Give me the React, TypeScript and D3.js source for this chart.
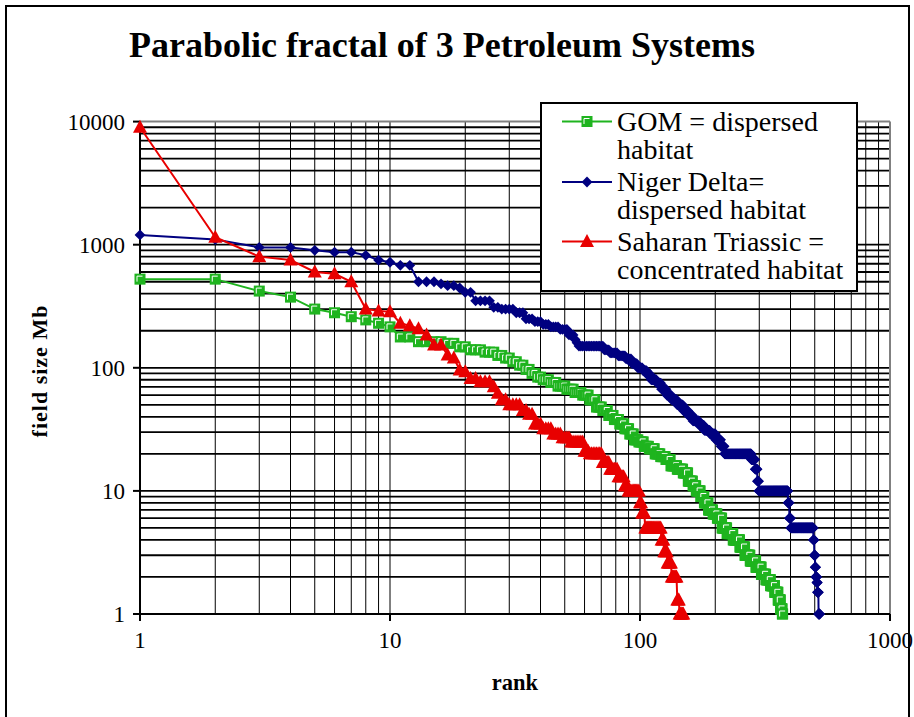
import React from 'react';
import * as d3 from 'd3';

const W = 914;
const H = 717;
const FONT = '"Liberation Serif", serif';

const titleText = 'Parabolic fractal of 3 Petroleum Systems';
const xAxisTitle = 'rank';
const yAxisTitle = 'field size Mb';
const xTickValues = [1, 10, 100, 1000];
const yTickValues = [1, 10, 100, 1000, 10000];

// GOM = dispersed habitat: field sizes (Mb), as value runs
const gomValues = [525, 420, 375, 300, 280, 260, 245, 230, 215, 178, 163, 158, 148, 140, 134, 126, 120, 112, 105, 97, 90, 84, 80, 76, 71, 67, 63, 60, 55, 48, 45, 41, 38, 35, 32, 29, 26, 25, 23, 22, 20, 19, 18, 16, 15, 14, 12, 11, 10, 9, 8, 7, 6.5, 6, 5, 4.5, 4, 3.5, 3, 2.7, 2.4, 2.1, 1.9, 1.7, 1.5, 1.3, 1.1, 1];
const gomCounts = [2, 1, 1, 1, 1, 1, 1, 1, 1, 2, 4, 2, 2, 3, 3, 2, 2, 2, 2, 2, 2, 2, 3, 3, 4, 4, 4, 4, 4, 4, 4, 4, 4, 4, 4, 4, 4, 5, 5, 6, 6, 6, 6, 8, 8, 7, 7, 5, 7, 6, 7, 8, 8, 9, 10, 13, 15, 12, 13, 15, 15, 13, 14, 13, 11, 8, 6, 2];

// Niger Delta = dispersed habitat
const nigerValues = [1200, 1100, 950, 900, 870, 820, 750, 720, 680, 500, 480, 465, 445, 410, 350, 310, 300, 280, 250, 237, 225, 215, 205, 185, 170, 160, 150, 140, 132, 125, 118, 108, 100, 95, 88, 80, 75, 67, 60, 55, 50, 45, 41, 37, 34, 31, 29, 26, 23, 20, 18, 15, 12, 10, 8, 6, 5, 4, 3, 2.4, 2, 1.8, 1.5, 1];
const nigerCounts = [1, 1, 2, 1, 2, 1, 1, 1, 2, 3, 1, 2, 1, 2, 4, 2, 4, 3, 3, 3, 3, 4, 4, 3, 1, 1, 15, 4, 6, 6, 5, 5, 5, 4, 4, 6, 5, 6, 6, 7, 8, 7, 7, 10, 8, 10, 10, 10, 7, 61, 10, 6, 4, 92, 5, 5, 93, 4, 4, 3, 5, 3, 5, 6];

// Saharan Triassic = concentrated habitat
const saharaValues = [9000, 1150, 800, 750, 600, 580, 500, 300, 290, 285, 230, 220, 208, 185, 153, 127, 120, 96, 93, 82, 77, 70, 62, 55, 50, 45, 42, 35, 32, 29, 27, 25, 21, 20, 17, 15, 13, 11, 10, 8, 6.6, 5, 4, 3.2, 2.6, 2, 1.3, 1];
const saharaCounts = [1, 1, 1, 1, 1, 1, 1, 1, 1, 1, 1, 1, 1, 1, 2, 1, 1, 1, 1, 2, 3, 1, 1, 2, 4, 2, 2, 3, 4, 4, 4, 7, 3, 8, 5, 6, 5, 3, 10, 2, 3, 17, 3, 4, 5, 7, 3, 6];

const seriesNames = ['GOM = dispersed\nhabitat', 'Niger Delta=\ndispersed habitat', 'Saharan Triassic =\nconcentrated habitat'];

type Pt = { rank: number; value: number };

function expand(values: number[], counts: number[]): Pt[] {
  const pts: Pt[] = [];
  let r = 0;
  values.forEach((v, i) => {
    for (let k = 0; k < counts[i]; k++) {
      r += 1;
      pts.push({ rank: r, value: v });
    }
  });
  return pts;
}

const GREEN = '#1fb41f';
const NAVY = '#000080';
const RED = '#e80000';

function SquareMarker({ cx, cy }: { cx: number; cy: number }) {
  return (
    <g transform={`translate(${cx},${cy})`}>
      <rect x={-5.5} y={-5.5} width={11} height={11} fill={GREEN} />
      <path d="M-3,2.5L-3,-3L2.5,-3" fill="none" stroke="#fff" strokeWidth={1} />
    </g>
  );
}
function DiamondMarker({ cx, cy }: { cx: number; cy: number }) {
  return <path d={`M${cx},${cy - 5.4}L${cx + 5.4},${cy}L${cx},${cy + 5.4}L${cx - 5.4},${cy}Z`} fill={NAVY} />;
}
function TriangleMarker({ cx, cy }: { cx: number; cy: number }) {
  return <path d={`M${cx},${cy - 7.5}L${cx + 7},${cy + 5.5}L${cx - 7},${cy + 5.5}Z`} fill={RED} />;
}

export default function App() {
  const x = d3.scaleLog().domain([1, 1000]).range([140, 890]);
  const y = d3.scaleLog().domain([1, 10000]).range([614, 121.6]);

  const gom = expand(gomValues, gomCounts);
  const niger = expand(nigerValues, nigerCounts);
  const sahara = expand(saharaValues, saharaCounts);

  const line = d3
    .line<Pt>()
    .x((d) => x(d.rank))
    .y((d) => y(d.value));

  const xGrid = x.ticks().filter((t) => t > 1 && t < 1000);
  const yGrid = y.ticks().filter((t) => t > 1 && t < 10000);

  const [x0, x1] = x.range();
  const [y0, y1] = y.range();

  const series = [
    { data: gom, color: GREEN, Marker: SquareMarker },
    { data: niger, color: NAVY, Marker: DiamondMarker },
    { data: sahara, color: RED, Marker: TriangleMarker },
  ];

  const legendX = 541;
  const legendY = 103;
  const legendRows = [121.5, 182, 241.5];

  return (
    <svg width={W} height={H} style={{ position: 'absolute', left: 0, top: 0, background: '#fff' }}>
      <rect x={0} y={0} width={W} height={H} fill="#fff" />
      <rect x={6} y={6} width={903} height={730} fill="none" stroke="#000" strokeWidth={2} />

      <text x={442} y={57} textAnchor="middle" fontSize={36} fontWeight="bold" fontFamily={FONT}>
        {titleText}
      </text>

      {/* gridlines */}
      {xGrid.map((t) => (
        <line key={'xg' + t} x1={x(t)} x2={x(t)} y1={y1} y2={y0} stroke="#000" strokeWidth={1} />
      ))}
      {yGrid.map((t) => (
        <line key={'yg' + t} x1={x0} x2={x1} y1={y(t)} y2={y(t)} stroke="#000" strokeWidth={1.8} />
      ))}
      <line x1={x0} x2={x1} y1={y1} y2={y1} stroke="#808080" strokeWidth={2} />
      <line x1={x1} x2={x1} y1={y1} y2={y0} stroke="#808080" strokeWidth={2} />

      {/* axes */}
      <line x1={x0} x2={x0} y1={y1} y2={y0} stroke="#000" strokeWidth={2} />
      <line x1={x0} x2={x1} y1={y0} y2={y0} stroke="#000" strokeWidth={2} />
      {yTickValues.map((t) => (
        <g key={'yt' + t}>
          <line x1={x0 - 7} x2={x0} y1={y(t)} y2={y(t)} stroke="#000" strokeWidth={2} />
          <text x={125} y={y(t)} dy="0.35em" textAnchor="end" fontSize={23} fontFamily={FONT}>
            {t}
          </text>
        </g>
      ))}
      {xTickValues.map((t) => (
        <g key={'xt' + t}>
          <line x1={x(t)} x2={x(t)} y1={y0} y2={y0 + 7} stroke="#000" strokeWidth={2} />
          <text x={x(t)} y={648} textAnchor="middle" fontSize={23} fontFamily={FONT}>
            {t}
          </text>
        </g>
      ))}
      <text x={(x0 + x1) / 2} y={690} textAnchor="middle" fontSize={22.5} fontWeight="bold" fontFamily={FONT}>
        {xAxisTitle}
      </text>
      <text
        transform={`translate(47,371) rotate(-90)`}
        textAnchor="middle"
        fontSize={22}
        fontWeight="bold"
        letterSpacing={1}
        fontFamily={FONT}
      >
        {yAxisTitle}
      </text>

      {/* series */}
      {series.map((s, i) => (
        <g key={'s' + i}>
          <path d={line(s.data) || ''} fill="none" stroke={s.color} strokeWidth={2} />
          {s.data.map((d, j) => (
            <s.Marker key={j} cx={x(d.rank)} cy={y(d.value)} />
          ))}
        </g>
      ))}

      {/* legend */}
      <rect x={legendX} y={legendY} width={316} height={188} fill="#fff" stroke="#000" strokeWidth={2} />
      {series.map((s, i) => {
        const ly = legendRows[i];
        const lines = seriesNames[i].split('\n');
        return (
          <g key={'lg' + i}>
            <line x1={562} x2={612} y1={ly} y2={ly} stroke={s.color} strokeWidth={2} />
            <s.Marker cx={587} cy={ly} />
            {lines.map((l, k) => (
              <text key={k} x={617} y={ly + 9 + k * 28} fontSize={28} fontFamily={FONT}>
                {l}
              </text>
            ))}
          </g>
        );
      })}
    </svg>
  );
}
